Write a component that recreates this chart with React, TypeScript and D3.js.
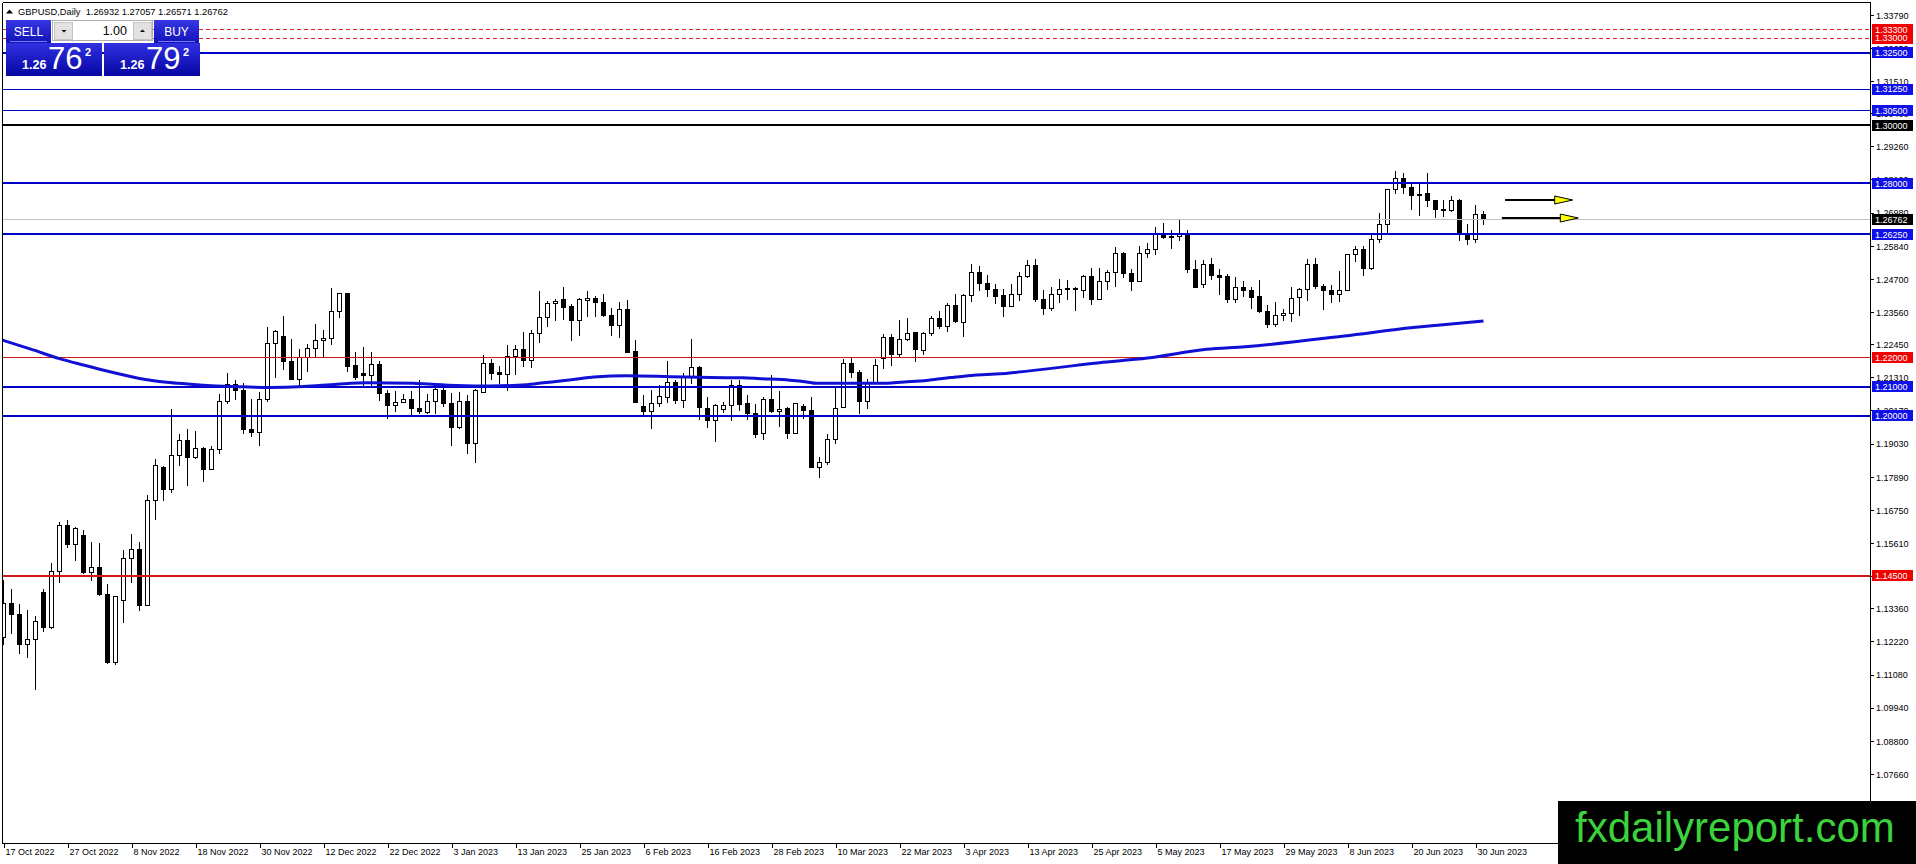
import * as d3 from "d3";

const WIDTH = 1916;
const HEIGHT = 864;
const FRAME = { left: 2.5, top: 2.5, right: 1870.5, bottom: 843.5 };
const FONT = "Liberation Sans, Arial, sans-serif";

// GBPUSD daily bars, 17 Oct 2022 .. 3 Jul 2023 (weekdays)
const OPEN = [
  1.1238, 1.1355, 1.1318, 1.1214, 1.1231, 1.1393, 1.1272, 1.1465, 1.1623, 1.1558,
  1.1589, 1.1462, 1.1479, 1.1387, 1.1152, 1.1364, 1.151, 1.1539, 1.1349, 1.1708,
  1.1821, 1.1748, 1.1862, 1.1914, 1.1856, 1.1889, 1.1816, 1.1883, 1.205, 1.2109,
  1.2087, 1.1954, 1.1943, 1.2055, 1.225, 1.2272, 1.2186, 1.2126, 1.2202, 1.2231,
  1.2259, 1.2267, 1.236, 1.2422, 1.2174, 1.2147, 1.214, 1.2178, 1.2078, 1.2036,
  1.2047, 1.2057, 1.2027, 1.2012, 1.205, 1.2089, 1.2043, 1.196, 1.2051, 1.1906,
  1.2081, 1.2181, 1.2148, 1.2143, 1.2205, 1.2227, 1.219, 1.2284, 1.2339, 1.2387,
  1.2399, 1.2375, 1.233, 1.2397, 1.2405, 1.239, 1.2347, 1.2311, 1.2367, 1.2221,
  1.2032, 1.2015, 1.2043, 1.2064, 1.2114, 1.2052, 1.2133, 1.2167, 1.2026, 1.1984,
  1.2022, 1.2036, 1.2104, 1.2041, 1.2009, 1.194, 1.2058, 1.2015, 1.2024, 1.194,
  1.2031, 1.202, 1.1823, 1.184, 1.1919, 1.203, 1.2181, 1.215, 1.2049, 1.2112,
  1.2199, 1.227, 1.2212, 1.2264, 1.2287, 1.2225, 1.2282, 1.2336, 1.2309, 1.2379,
  1.2322, 1.2413, 1.2494, 1.2456, 1.2436, 1.2415, 1.2376, 1.2418, 1.248, 1.2518,
  1.2402, 1.2369, 1.2418, 1.2439, 1.2439, 1.2433, 1.248, 1.2402, 1.2464, 1.2495,
  1.2559, 1.2491, 1.2464, 1.2559, 1.2571, 1.2623, 1.2617, 1.2617, 1.2628, 1.2504,
  1.2453, 1.2522, 1.2482, 1.248, 1.2402, 1.2441, 1.2433, 1.241, 1.236, 1.2315,
  1.2344, 1.2351, 1.2408, 1.2436, 1.2522, 1.2447, 1.2433, 1.2419, 1.2433, 1.2557,
  1.2573, 1.2508, 1.2608, 1.2659, 1.278, 1.2818, 1.2787, 1.2763, 1.2764, 1.2743,
  1.2711, 1.2706, 1.2743, 1.2625, 1.2608, 1.26932,
];
const HIGH = [
  1.1438, 1.1407, 1.1355, 1.1334, 1.1314, 1.1407, 1.1497, 1.1636, 1.1644, 1.1621,
  1.161, 1.1566, 1.1564, 1.1422, 1.138, 1.1539, 1.1596, 1.1567, 1.1731, 1.1852,
  1.1828, 1.2026, 1.194, 1.1955, 1.1949, 1.1896, 1.1899, 1.2078, 1.2151, 1.2126,
  1.2114, 1.206, 1.2083, 1.2309, 1.2298, 1.2344, 1.2268, 1.2233, 1.2248, 1.2319,
  1.2298, 1.2442, 1.2424, 1.2426, 1.222, 1.2239, 1.2223, 1.2192, 1.2091, 1.2087,
  1.2078, 1.2089, 1.2124, 1.2076, 1.2112, 1.2103, 1.208, 1.2083, 1.2072, 1.2095,
  1.221, 1.2198, 1.2175, 1.2244, 1.2247, 1.2289, 1.2298, 1.2433, 1.2396, 1.2403,
  1.2447, 1.2387, 1.2408, 1.243, 1.2416, 1.242, 1.2374, 1.2393, 1.2399, 1.2263,
  1.2075, 1.2091, 1.2109, 1.2192, 1.2126, 1.2149, 1.2267, 1.2175, 1.2068, 1.2043,
  1.2049, 1.2124, 1.2124, 1.2072, 1.2041, 1.2066, 1.2141, 1.2086, 1.2034, 1.2043,
  1.2041, 1.2066, 1.186, 1.1938, 1.2106, 1.2197, 1.2202, 1.2158, 1.2129, 1.2197,
  1.2282, 1.2282, 1.2332, 1.2339, 1.229, 1.2292, 1.2347, 1.2362, 1.239, 1.2422,
  1.2422, 1.2523, 1.2516, 1.2485, 1.2454, 1.2439, 1.2454, 1.2496, 1.2537, 1.2542,
  1.2436, 1.2447, 1.2473, 1.2468, 1.2447, 1.2485, 1.251, 1.251, 1.2504, 1.2582,
  1.2565, 1.2508, 1.2585, 1.2596, 1.2651, 1.2667, 1.264, 1.2678, 1.264, 1.2537,
  1.2539, 1.2546, 1.2508, 1.2491, 1.2481, 1.2465, 1.2445, 1.2468, 1.2385, 1.2395,
  1.237, 1.2445, 1.2443, 1.2542, 1.2545, 1.2456, 1.2451, 1.2499, 1.2559, 1.2588,
  1.2588, 1.2623, 1.2699, 1.2783, 1.2846, 1.2837, 1.28, 1.28, 1.2837, 1.2745,
  1.2746, 1.2757, 1.2749, 1.2663, 1.2726, 1.27057,
];
const LOW = [
  1.1212, 1.1252, 1.1183, 1.1169, 1.1057, 1.1258, 1.1269, 1.1426, 1.1547, 1.1502,
  1.1458, 1.1433, 1.1381, 1.1149, 1.1143, 1.1289, 1.1426, 1.133, 1.1349, 1.1642,
  1.1708, 1.1736, 1.1828, 1.176, 1.1852, 1.1774, 1.1816, 1.1871, 1.2043, 1.2055,
  1.1938, 1.1929, 1.1898, 1.2051, 1.2132, 1.2158, 1.2124, 1.2106, 1.2152, 1.2204,
  1.2206, 1.2244, 1.2338, 1.2152, 1.2124, 1.2106, 1.2106, 1.2052, 1.1992, 1.2015,
  1.2046, 1.2003, 1.2007, 1.2007, 1.2007, 1.2032, 1.1898, 1.1955, 1.1871, 1.184,
  1.2081, 1.2124, 1.2112, 1.2089, 1.2144, 1.2169, 1.2166, 1.2252, 1.2309, 1.233,
  1.2332, 1.2259, 1.2278, 1.2342, 1.2342, 1.2342, 1.2278, 1.227, 1.2219, 1.2046,
  1.2003, 1.1957, 1.2032, 1.2046, 1.2043, 1.203, 1.2112, 1.1988, 1.1961, 1.1911,
  1.2011, 1.1984, 1.202, 1.1988, 1.1925, 1.1919, 1.2011, 1.1963, 1.1923, 1.194,
  1.1992, 1.1822, 1.1789, 1.1831, 1.1906, 1.203, 1.2133, 1.2007, 1.2026, 1.2112,
  1.2163, 1.2175, 1.2204, 1.2259, 1.2187, 1.2213, 1.2275, 1.2301, 1.229, 1.2321,
  1.2273, 1.2393, 1.2431, 1.241, 1.2387, 1.2342, 1.2376, 1.2397, 1.2476, 1.2395,
  1.235, 1.2364, 1.239, 1.2399, 1.2362, 1.2408, 1.2384, 1.2399, 1.2436, 1.2445,
  1.2476, 1.2433, 1.2462, 1.2546, 1.2557, 1.2611, 1.2577, 1.2603, 1.2493, 1.2443,
  1.2443, 1.2468, 1.2418, 1.239, 1.2391, 1.241, 1.237, 1.2355, 1.2304, 1.2307,
  1.233, 1.2324, 1.2345, 1.2397, 1.2439, 1.2367, 1.239, 1.2393, 1.2433, 1.2531,
  1.2483, 1.2504, 1.2598, 1.2628, 1.2766, 1.2766, 1.2709, 1.2689, 1.2722, 1.2682,
  1.2686, 1.2702, 1.2603, 1.259, 1.2596, 1.26571,
];
const CLOSE = [
  1.1355, 1.1315, 1.1214, 1.1231, 1.1292, 1.1272, 1.1465, 1.1623, 1.1558, 1.1613,
  1.1461, 1.1479, 1.1384, 1.1152, 1.1378, 1.151, 1.1539, 1.1349, 1.1708, 1.183,
  1.1748, 1.1862, 1.1914, 1.1856, 1.1887, 1.1816, 1.1883, 1.205, 1.2109, 1.2087,
  1.1954, 1.1943, 1.2055, 1.225, 1.2289, 1.2188, 1.2126, 1.2202, 1.2231, 1.226,
  1.2267, 1.236, 1.2422, 1.2169, 1.2132, 1.214, 1.2178, 1.2078, 1.2035, 1.2047,
  1.2057, 1.2026, 1.2016, 1.205, 1.2091, 1.2041, 1.196, 1.2049, 1.1906, 1.2089,
  1.2179, 1.2147, 1.2143, 1.2205, 1.2229, 1.219, 1.2284, 1.2339, 1.2387, 1.2395,
  1.2372, 1.233, 1.2399, 1.2405, 1.239, 1.2344, 1.2311, 1.2367, 1.2219, 1.2046,
  1.2015, 1.2043, 1.2066, 1.2114, 1.2052, 1.2133, 1.2167, 1.203, 1.1984, 1.2035,
  1.2036, 1.2104, 1.2038, 1.2009, 1.1937, 1.2058, 1.2015, 1.2023, 1.1938, 1.2041,
  1.2018, 1.1822, 1.184, 1.1919, 1.2026, 1.2181, 1.2149, 1.2049, 1.2112, 1.2174,
  1.227, 1.221, 1.2264, 1.2284, 1.2229, 1.2282, 1.2336, 1.2309, 1.2379, 1.2324,
  1.2413, 1.2493, 1.2456, 1.2436, 1.241, 1.2376, 1.2418, 1.248, 1.2518, 1.2402,
  1.2369, 1.2418, 1.2436, 1.2434, 1.2434, 1.248, 1.2402, 1.2464, 1.2495, 1.2559,
  1.2491, 1.2464, 1.2559, 1.2571, 1.2628, 1.2615, 1.2615, 1.2625, 1.2504, 1.2443,
  1.2522, 1.2482, 1.2478, 1.2402, 1.2442, 1.2433, 1.2407, 1.2358, 1.2315, 1.2344,
  1.2351, 1.2405, 1.2436, 1.2522, 1.2445, 1.2431, 1.2419, 1.2433, 1.2556, 1.2573,
  1.2508, 1.2608, 1.2659, 1.278, 1.2818, 1.2787, 1.2758, 1.2758, 1.274, 1.2709,
  1.2706, 1.2743, 1.2631, 1.2608, 1.2694, 1.26762,
];

// moving average read at a few bar positions
const MA_BAR = [
  -0.5, 3.7, 7, 10, 13.3, 17, 20.4, 23, 26, 30, 33.3, 37.5, 41.7, 45.4, 51.2, 56.6,
  60.8, 65.4, 67.5, 69.6, 71.7, 73.8, 77.9, 83.4, 88.4, 92.4, 94.6, 98.3, 100.4,
  101.6, 109.6, 112.6, 115.4, 117.1, 118.8, 121.3, 124, 137, 143, 150.4, 155.2,
  167.6, 176.2, 179.6, 185,
];
const MA_VALUE = [
  1.2264, 1.2227, 1.2197, 1.2175, 1.2152, 1.2129, 1.2116, 1.211, 1.2104, 1.21,
  1.2098, 1.2101, 1.2109, 1.2114, 1.2112, 1.2105, 1.2103, 1.2107, 1.2114, 1.212,
  1.2127, 1.2134, 1.2138, 1.2135, 1.2132, 1.2131, 1.2128, 1.2123, 1.2117, 1.2112,
  1.2112, 1.2117, 1.2122, 1.2128, 1.2133, 1.214, 1.2144, 1.2183, 1.2199, 1.2229,
  1.2238, 1.2275, 1.2304, 1.2313, 1.2327,
];

const DATE_LABELS = [
  "17 Oct 2022", "27 Oct 2022", "8 Nov 2022", "18 Nov 2022", "30 Nov 2022",
  "12 Dec 2022", "22 Dec 2022", "3 Jan 2023", "13 Jan 2023", "25 Jan 2023",
  "6 Feb 2023", "16 Feb 2023", "28 Feb 2023", "10 Mar 2023", "22 Mar 2023",
  "3 Apr 2023", "13 Apr 2023", "25 Apr 2023", "5 May 2023", "17 May 2023",
  "29 May 2023", "8 Jun 2023", "20 Jun 2023", "30 Jun 2023",
];
const BARS_PER_LABEL = 8;

const PRICE_TICKS = [
  1.3379, 1.3265, 1.3151, 1.304, 1.2926, 1.2812, 1.2698, 1.2584, 1.247, 1.2356,
  1.2245, 1.2131, 1.2017, 1.1903, 1.1789, 1.1675, 1.1561, 1.1447, 1.1336, 1.1222,
  1.1108, 1.0994, 1.088, 1.0766,
];

// horizontal levels drawn on the chart
const LEVEL_PRICES = [1.333, 1.33, 1.325, 1.3125, 1.305, 1.3, 1.28, 1.2625, 1.22, 1.21, 1.2, 1.145];
const LEVEL_KINDS = [
  "redDash", "redDash", "blueBold", "blue", "blue", "black",
  "blueBold", "blueBold", "red", "blueBold", "blueBold", "redBold",
];

// two arrow objects: bar range of the shaft and price
const ARROW_FROM = [187.7, 187.3];
const ARROW_TO = [193.9, 194.6];
const ARROW_PRICE = [1.2743, 1.268];

const ASK = 1.26792;

const KIND_STYLE: Record<string, { stroke: string; width: number; dash?: string; box: string }> = {
  redDash: { stroke: "#e02424", width: 1, dash: "4,3", box: "#f00000" },
  red: { stroke: "#d01818", width: 1, box: "#f00000" },
  redBold: { stroke: "#d01818", width: 2, box: "#f00000" },
  blue: { stroke: "#0000c8", width: 1, box: "#1010e8" },
  blueBold: { stroke: "#0000c8", width: 2, box: "#1010e8" },
  black: { stroke: "#000000", width: 2, box: "#000000" },
};

const crisp = (v: number, w: number) => (w % 2 === 1 ? Math.round(v - 0.5) + 0.5 : Math.round(v));

const App = () => {
  const x = d3.scaleLinear().domain([0, 185]).range([3.5, 1483.5]);
  const y = d3.scaleLinear().domain([1.145, 1.325]).range([575.7, 52.7]);

  const bars = d3.range(OPEN.length).map((i) => ({
    i,
    o: OPEN[i],
    h: HIGH[i],
    l: LOW[i],
    c: CLOSE[i],
  }));
  const last = bars[bars.length - 1];

  const maPath =
    d3
      .line<number>()
      .x((_, k) => x(MA_BAR[k]))
      .y((d) => y(d))
      .curve(d3.curveMonotoneX)(MA_VALUE) || "";

  const levels = LEVEL_PRICES.map((p, k) => ({ p, s: KIND_STYLE[LEVEL_KINDS[k]] }));

  const fmt = (p: number) => p.toFixed(5);
  const title = `GBPUSD,Daily  ${fmt(last.o)} ${fmt(last.h)} ${fmt(last.l)} ${fmt(last.c)}`;
  const bidStr = fmt(last.c);
  const askStr = fmt(ASK);

  // price tags on the right scale: level colours plus the black bid tag
  const boxes = [
    ...levels.map((l) => ({ p: l.p, fill: l.s.box })),
    { p: last.c, fill: "#000000" },
  ];

  return (
    <svg
      width={WIDTH}
      height={HEIGHT}
      style={{ position: "absolute", left: 0, top: 0, display: "block", background: "#fff" }}
      fontFamily={FONT}
    >
      <defs>
        <clipPath id="plot">
          <rect x={FRAME.left} y={FRAME.top} width={FRAME.right - FRAME.left} height={FRAME.bottom - FRAME.top} />
        </clipPath>
        <linearGradient id="btn" x1="0" x2="0" y1="0" y2="1">
          <stop offset="0%" stopColor="#3636e4" />
          <stop offset="100%" stopColor="#1212b8" />
        </linearGradient>
        <linearGradient id="big" x1="0" x2="0" y1="0" y2="1">
          <stop offset="0%" stopColor="#3030e2" />
          <stop offset="100%" stopColor="#0606a2" />
        </linearGradient>
      </defs>
      <rect x={0} y={0} width={WIDTH} height={HEIGHT} fill="#fff" />

      <g clipPath="url(#plot)">
        {/* candles */}
        {bars.map((b) => {
          const cx = x(b.i);
          const top = crisp(y(Math.max(b.o, b.c)), 1);
          const bot = crisp(y(Math.min(b.o, b.c)), 1);
          const bull = b.c >= b.o;
          return (
            <g key={b.i} shapeRendering="crispEdges">
              <line x1={cx} x2={cx} y1={crisp(y(b.h), 1)} y2={crisp(y(b.l), 1)} stroke="#000" />
              {bot - top < 1 ? (
                <line x1={cx - 2.5} x2={cx + 2.5} y1={top} y2={top} stroke="#000" />
              ) : (
                <rect
                  x={cx - 2}
                  y={top}
                  width={4}
                  height={bot - top}
                  fill={bull ? "#fff" : "#000"}
                  stroke="#000"
                />
              )}
            </g>
          );
        })}

        {/* current price line */}
        <line
          x1={FRAME.left}
          x2={FRAME.right}
          y1={crisp(y(last.c), 1)}
          y2={crisp(y(last.c), 1)}
          stroke="#c0c0c0"
          shapeRendering="crispEdges"
        />

        {/* horizontal levels */}
        {levels.map((l, k) => (
          <line
            key={k}
            x1={FRAME.left}
            x2={FRAME.right}
            y1={crisp(y(l.p), l.s.width)}
            y2={crisp(y(l.p), l.s.width)}
            stroke={l.s.stroke}
            strokeWidth={l.s.width}
            strokeDasharray={l.s.dash}
            shapeRendering="crispEdges"
          />
        ))}

        {/* moving average */}
        <path d={maPath} fill="none" stroke="#1010d4" strokeWidth={3} />

        {/* arrows */}
        {ARROW_PRICE.map((p, k) => {
          const yy = crisp(y(p), 2);
          const x0 = x(ARROW_FROM[k]);
          const x1 = x(ARROW_TO[k]);
          return (
            <g key={k}>
              <line x1={x0} x2={x1} y1={yy} y2={yy} stroke="#000" strokeWidth={2} />
              <polygon
                points={`${x1},${yy - 4} ${x1 + 18},${yy} ${x1},${yy + 4}`}
                fill="#ffff00"
                stroke="#000"
                strokeWidth={1}
              />
            </g>
          );
        })}
      </g>

      {/* frame */}
      <g stroke="#000" shapeRendering="crispEdges">
        <line x1={FRAME.left} x2={FRAME.right} y1={FRAME.top} y2={FRAME.top} />
        <line x1={FRAME.left} x2={FRAME.left} y1={FRAME.top} y2={FRAME.bottom} />
        <line x1={FRAME.right} x2={FRAME.right} y1={FRAME.top} y2={FRAME.bottom} />
        <line x1={FRAME.left} x2={FRAME.right} y1={FRAME.bottom} y2={FRAME.bottom} />
      </g>

      {/* price axis */}
      <g fontSize={9} fill="#000">
        {PRICE_TICKS.map((p) => (
          <g key={p}>
            <line
              x1={FRAME.right}
              x2={FRAME.right + 3}
              y1={crisp(y(p), 1)}
              y2={crisp(y(p), 1)}
              stroke="#000"
              shapeRendering="crispEdges"
            />
            <text x={1876} y={y(p) + 3.3}>
              {fmt(p)}
            </text>
          </g>
        ))}
      </g>
      <g shapeRendering="crispEdges">
        {boxes.map((b, k) => (
          <rect key={k} x={1872} y={y(b.p) - 5.5} width={41} height={11} fill={b.fill} />
        ))}
      </g>
      <g fontSize={9} fill="#fff">
        {boxes.map((b, k) => (
          <text key={k} x={1875} y={y(b.p) + 3.3}>
            {fmt(b.p)}
          </text>
        ))}
      </g>

      {/* time axis */}
      <g fontSize={9} fill="#000">
        {DATE_LABELS.map((d, k) => {
          const tx = Math.round(x(k * BARS_PER_LABEL)) + 0.5;
          return (
            <g key={d}>
              <line x1={tx} x2={tx} y1={FRAME.bottom} y2={FRAME.bottom + 4} stroke="#000" shapeRendering="crispEdges" />
              <text x={tx + 1} y={855}>
                {d}
              </text>
            </g>
          );
        })}
      </g>

      {/* symbol header */}
      <polygon points="6,13.5 13,13.5 9.5,9.5" fill="#000" />
      <text x={18} y={14.5} fontSize={9.3} fill="#000" xmlSpace="preserve">
        {title}
      </text>

      {/* one click trading panel */}
      <g>
        <rect x={6} y={20} width={45} height={23} fill="url(#btn)" />
        <text x={28.5} y={35.5} textAnchor="middle" fill="#fff" fontSize={12}>
          SELL
        </text>
        <line x1={10} x2={47} y1={41.5} y2={41.5} stroke="#7a7af0" />
        <rect x={154} y={20} width={45} height={23} fill="url(#btn)" />
        <text x={176.5} y={35.5} textAnchor="middle" fill="#fff" fontSize={12}>
          BUY
        </text>
        <line x1={158} x2={195} y1={41.5} y2={41.5} stroke="#7a7af0" />

        <rect x={52.5} y={20.5} width={100} height={20} fill="#fff" stroke="#b0b0b0" />
        <rect x={54.5} y={22.5} width={18} height={17} fill="#e2e2e2" stroke="#c4c4c4" />
        <polygon points="61.5,30 66.5,30 64,32.5" fill="#000" />
        <rect x={133.5} y={22.5} width={18} height={17} fill="#e2e2e2" stroke="#c4c4c4" />
        <polygon points="140,32 145,32 142.5,29.5" fill="#000" />
        <text x={127} y={34.5} textAnchor="end" fontSize={12.5} fill="#000">
          1.00
        </text>

        {[
          { str: bidStr, x0: 6 },
          { str: askStr, x0: 104 },
        ].map(({ str, x0 }) => (
          <g key={x0}>
            <rect x={x0} y={43} width={96} height={33} fill="url(#big)" />
            <text x={x0 + 16} y={69} fontSize={12.5} fontWeight="bold" fill="#fff">
              {str.slice(0, 4)}
            </text>
            <text x={x0 + 42} y={69} fontSize={31} fill="#fff">
              {str.slice(4, 6)}
            </text>
            <text x={x0 + 79} y={56} fontSize={11} fontWeight="bold" fill="#fff">
              {str.slice(6)}
            </text>
          </g>
        ))}
      </g>

      {/* watermark */}
      <rect x={1558} y={801} width={WIDTH - 1558} height={HEIGHT - 801} fill="#000" />
      <text x={1575} y={842} fontSize={42} fill="#3bd23b">
        fxdailyreport.com
      </text>
    </svg>
  );
};

export default App;
